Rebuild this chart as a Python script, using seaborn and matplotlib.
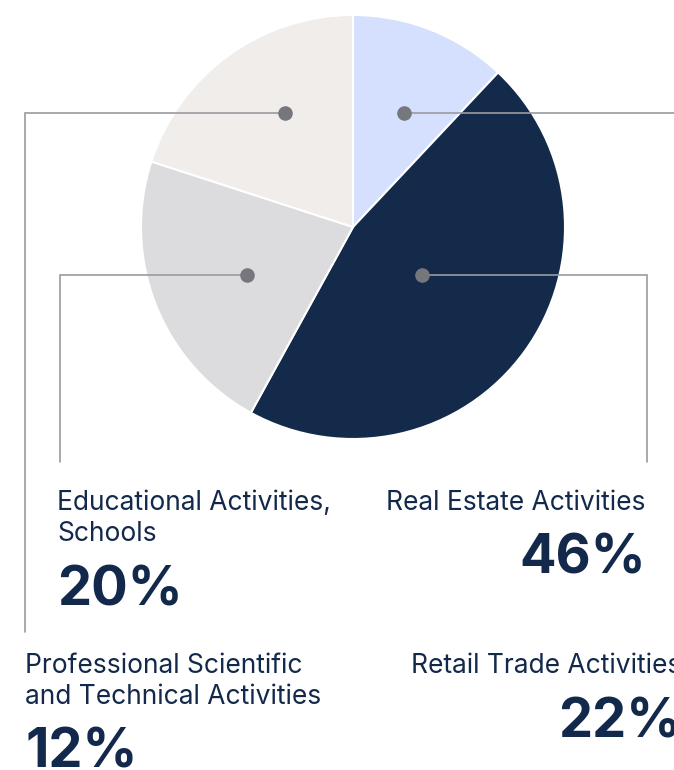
import matplotlib
matplotlib.use("Agg")
import matplotlib.pyplot as plt
import seaborn as sns

# slice shares as drawn, clockwise from 12 o'clock
shares = [12, 46, 22, 20]
slice_colors = ["#d4e0fd", "#142a4b", "#dcdcde", "#f0edea"]

# callout texts
labels = ["Retail Trade Activities", "Real Estate Activities",
          "Educational Activities,\nSchools",
          "Professional Scientific\nand Technical Activities"]
pct_text = ["22%", "46%", "20%", "12%"]

NAVY = "#13294b"
LINE = "#9a9ba0"
DOT = "#76777d"

sns.set_theme(style="white")
plt.rcParams["font.family"] = ["Inter", "DejaVu Sans"]

fig = plt.figure(figsize=(6.74, 7.70), dpi=100)
ax = fig.add_axes([0, 0, 1, 1])

cx, cy, r = 353, 227, 212
ax.pie(shares, colors=slice_colors, center=(cx, cy), radius=r,
       startangle=-90, counterclock=True,
       wedgeprops=dict(edgecolor="white", linewidth=1.5))
ax.set_xlim(0, 674)
ax.set_ylim(770, 0)
ax.set_aspect("equal")
ax.axis("off")

# callouts: dot, elbow x, line bottom, text anchor, alignment
callouts = [
    ((404, 113), 681, 632, (681, 673), "right"),
    ((422, 275), 647, 462, (646, 510), "right"),
    ((247, 275), 60, 462, (57, 510), "left"),
    ((285, 113), 25, 632, (25, 673), "left"),
]
for i, (dot, ex, ybot, (tx, ty), ha) in enumerate(callouts):
    ax.plot([dot[0], ex, ex], [dot[1], dot[1], ybot], color=LINE, lw=1.2,
            solid_joinstyle="miter", zorder=3)
    ax.scatter([dot[0]], [dot[1]], s=110, color=DOT, zorder=4, linewidths=0)
    lines = labels[i].split("\n")
    for k, line in enumerate(lines):
        ax.text(tx, ty + 31 * k, line, ha=ha, va="baseline",
                fontsize=19, color=NAVY)
    ax.text(tx, ty + 31 * (len(lines) - 1) + 64, pct_text[i], ha=ha,
            va="baseline", fontsize=39, fontweight="bold", color=NAVY)

fig.savefig("out.png", dpi=100)
